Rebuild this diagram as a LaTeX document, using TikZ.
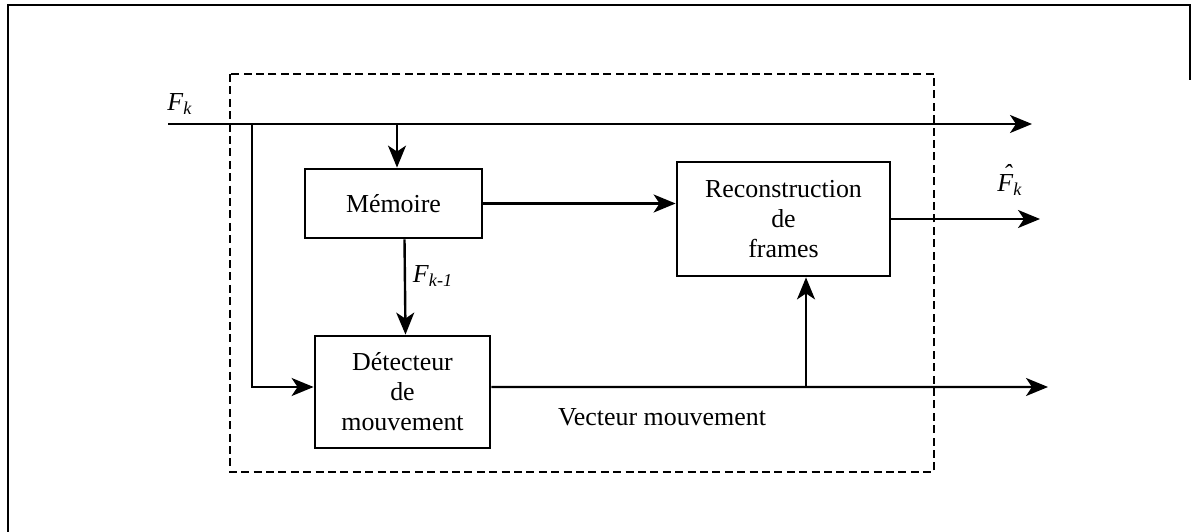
\documentclass[tikz,border=0pt]{standalone}
\usepackage{fontspec}
\setmainfont{Liberation Serif}
\usetikzlibrary{arrows.meta}
\tikzset{
  blk/.style={draw, line width=1.4bp, align=center, inner sep=0pt,
    font=\fontsize{13}{15}\selectfont},
  wire/.style={line width=1.2bp},
  arr/.style={wire, -{Stealth[length=11bp,width=9bp,inset=3bp]}},
  lbl/.style={font=\fontsize{13}{15}\selectfont, inner sep=0pt},
  frame/.style={line width=1.1bp},
}
\newcommand{\hatF}{\textit{\rlap{\hspace{0.22em}\raisebox{0.33em}{\char"02C6}}F}}
\begin{document}
\begin{tikzpicture}[x=0.5bp, y=-0.5bp]
\useasboundingbox (0,0) rectangle (1192,532);

% outer frame
\draw[frame] (8,532) -- (8,5) -- (1190,5) -- (1190,80);

% dashed enclosure
\draw[line width=1.1bp, dash pattern=on 4bp off 2.2bp] (230,74) rectangle (934,472);

% blocks
\node[blk, minimum width=88.5bp, minimum height=34.5bp] (mem) at (393.5,203.5) {Mémoire};
\node[blk, minimum width=106.5bp, minimum height=57bp] (rec) at (783.5,219)
  {Reconstruction\\de\\frames};
\node[blk, minimum width=87.5bp, minimum height=56bp] (det) at (402.5,392)
  {Détecteur\\de\\mouvement};

% end points of the signal lines
\coordinate (in) at (168,124);
\coordinate (outA) at (1032,124);
\coordinate (outB) at (1040,222);
\coordinate (outC) at (1048,387);
\coordinate (b1) at (252,124);
\coordinate (b2) at (397,124);
\coordinate (j) at (806,387);
\coordinate (dw) at ([yshift=2.5bp]det.west);
\coordinate (de) at ([yshift=2.5bp]det.east);

% connectors
\draw[arr] (in) -- (outA);
\draw[arr] (b1) |- (dw);
\draw[arr] (b2) -- (b2 |- mem.north);
\draw[arr] (mem.east) -- (mem.east -| rec.west);
\draw[arr] ([xshift=5.5bp]mem.south) -- ([xshift=1.5bp]det.north);
\draw[arr] (de) -- (outC);
\draw[arr] (j) -- (j |- rec.south);
\draw[arr] (rec.east) -- (rec.east -| outB);

% labels
\node[lbl] (fk) at (180,104) {\textit{F}\textsubscript{\textit{k}}};
\node[lbl] (fk1) at (433,276) {\textit{F}\textsubscript{\textit{k-1}}};
\node[lbl] (fhat) at (1010,180) {\hatF\textsubscript{\textit{k}}};
\node[lbl] (vm) at (662,417) {Vecteur mouvement};
\end{tikzpicture}
\end{document}
